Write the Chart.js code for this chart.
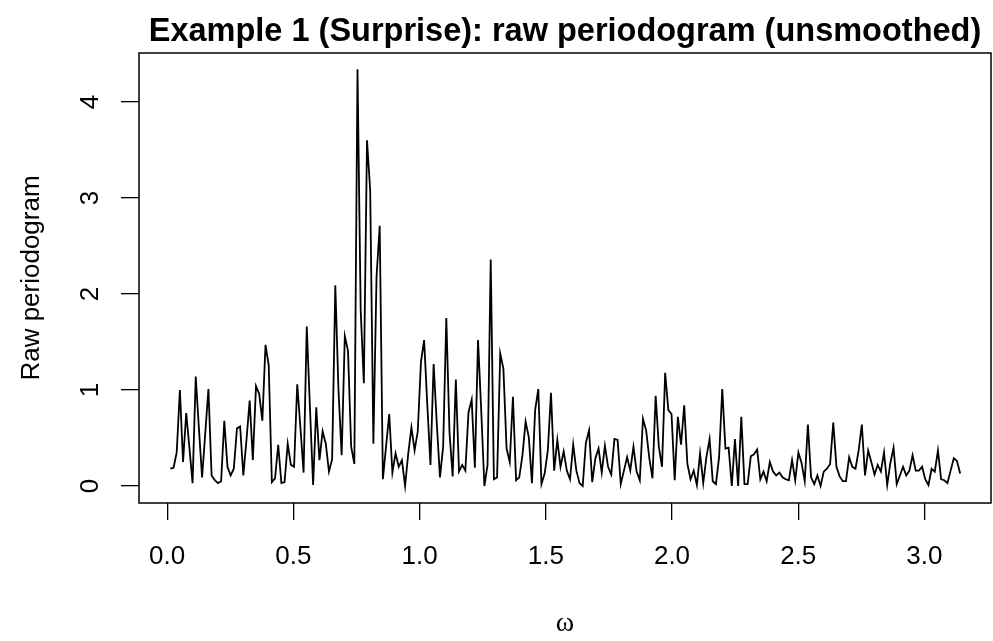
<!DOCTYPE html>
<html>
<head>
<meta charset="utf-8">
<script src="https://cdn.jsdelivr.net/npm/chart.js@4"></script>
<style>
  html, body { margin: 0; padding: 0; background: #fff; }
  #wrap { width: 993px; height: 641px; }
</style>
</head>
<body>
<div id="wrap"><canvas id="pgram" width="993" height="641"></canvas></div>
<script>
// raw periodogram values, one per Fourier frequency 2*pi*k/n, k = 1..250
const nObs = 500;
const pgram = [
  0.18, 0.19, 0.35, 1.00, 0.25, 0.76, 0.40, 0.03, 1.14, 0.60,
  0.09, 0.55, 1.01, 0.11, 0.06, 0.03, 0.05, 0.68, 0.20, 0.11,
  0.18, 0.60, 0.62, 0.11, 0.48, 0.89, 0.27, 1.04, 0.96, 0.68,
  1.47, 1.26, 0.04, 0.08, 0.43, 0.03, 0.04, 0.44, 0.22, 0.20,
  1.06, 0.61, 0.14, 1.66, 0.82, 0.01, 0.82, 0.27, 0.57, 0.44,
  0.15, 0.28, 2.09, 1.00, 0.32, 1.56, 1.41, 0.41, 0.23, 4.34,
  1.83, 1.07, 3.60, 3.08, 0.44, 2.18, 2.71, 0.07, 0.41, 0.75,
  0.14, 0.34, 0.20, 0.27, 0.00, 0.34, 0.61, 0.37, 0.57, 1.29,
  1.52, 0.85, 0.22, 1.27, 0.65, 0.09, 0.41, 1.75, 0.56, 0.10,
  1.11, 0.15, 0.22, 0.16, 0.77, 0.90, 0.19, 1.52, 0.79, 0.00,
  0.22, 2.36, 0.07, 0.09, 1.38, 1.22, 0.39, 0.25, 0.93, 0.06,
  0.09, 0.32, 0.67, 0.51, 0.03, 0.79, 1.01, 0.02, 0.13, 0.37,
  0.97, 0.16, 0.48, 0.20, 0.36, 0.16, 0.07, 0.43, 0.16, 0.03,
  0.00, 0.45, 0.58, 0.04, 0.29, 0.39, 0.14, 0.42, 0.20, 0.12,
  0.49, 0.48, 0.02, 0.16, 0.30, 0.16, 0.41, 0.15, 0.06, 0.70,
  0.58, 0.29, 0.08, 0.94, 0.41, 0.20, 1.18, 0.79, 0.75, 0.06,
  0.72, 0.43, 0.84, 0.23, 0.07, 0.16, 0.01, 0.34, 0.03, 0.30,
  0.49, 0.05, 0.02, 0.30, 1.01, 0.39, 0.40, 0.00, 0.49, 0.00,
  0.72, 0.02, 0.02, 0.31, 0.33, 0.38, 0.07, 0.15, 0.05, 0.25,
  0.15, 0.11, 0.14, 0.09, 0.07, 0.06, 0.27, 0.06, 0.35, 0.24,
  0.05, 0.64, 0.09, 0.02, 0.11, 0.00, 0.15, 0.18, 0.23, 0.66,
  0.20, 0.10, 0.05, 0.05, 0.30, 0.20, 0.18, 0.37, 0.64, 0.11,
  0.37, 0.25, 0.12, 0.22, 0.15, 0.35, 0.01, 0.24, 0.40, 0.02,
  0.11, 0.20, 0.11, 0.16, 0.32, 0.16, 0.16, 0.20, 0.07, 0.01,
  0.18, 0.15, 0.37, 0.07, 0.06, 0.03, 0.16, 0.29, 0.26, 0.13
];
const omega = pgram.map((_, i) => 2 * Math.PI * (i + 1) / nObs);

const xTicks = [0.0, 0.5, 1.0, 1.5, 2.0, 2.5, 3.0];
const yTicks = [0, 1, 2, 3, 4];

const titleText = "Example 1 (Surprise): raw periodogram (unsmoothed)";
const xTitle = "\u03c9";
const yTitle = "Raw periodogram";

const sans = '"Liberation Sans", Arial, Helvetica, sans-serif';

// R-style box, rotated y labels, titles
const rDecor = {
  id: 'rDecor',
  afterDraw(chart) {
    const ctx = chart.ctx;
    const a = chart.chartArea;
    const ys = chart.scales.y;
    ctx.save();
    ctx.strokeStyle = '#000';
    ctx.lineWidth = 1.5;
    ctx.strokeRect(a.left, a.top, a.right - a.left, a.bottom - a.top);

    ctx.fillStyle = '#000';
    ctx.font = '26px ' + sans;
    ctx.textAlign = 'center';
    ctx.textBaseline = 'middle';
    yTicks.forEach(v => {
      ctx.save();
      ctx.translate(91, ys.getPixelForValue(v));
      ctx.rotate(-Math.PI / 2);
      ctx.fillText(String(v), 0, 0);
      ctx.restore();
    });

    ctx.save();
    ctx.translate(32, (a.top + a.bottom) / 2);
    ctx.rotate(-Math.PI / 2);
    ctx.fillText(yTitle, 0, 0);
    ctx.restore();

    ctx.font = '28px "Liberation Serif", "DejaVu Serif", serif';
    ctx.fillText(xTitle, (a.left + a.right) / 2, 624);

    ctx.font = 'bold 32.5px ' + sans;
    ctx.textBaseline = 'alphabetic';
    ctx.fillText(titleText, (a.left + a.right) / 2, 41);
    ctx.restore();
  }
};

new Chart(document.getElementById('pgram'), {
  type: 'line',
  data: {
    datasets: [{
      data: omega.map((w, i) => ({ x: w, y: pgram[i] })),
      borderColor: '#000',
      borderWidth: 1.8,
      pointRadius: 0,
      tension: 0,
      fill: false
    }]
  },
  options: {
    responsive: false,
    animation: false,
    layout: { padding: { top: 53, right: 2, left: 0, bottom: 0 } },
    plugins: { legend: { display: false }, tooltip: { enabled: false }, title: { display: false } },
    scales: {
      x: {
        type: 'linear',
        min: -0.1117,
        max: 3.2638,
        afterBuildTicks: s => { s.ticks = xTicks.map(v => ({ value: v })); },
        afterFit: s => { s.height = 138; },
        border: { display: false },
        grid: { drawOnChartArea: false, drawTicks: true, tickLength: 17, color: '#000', lineWidth: 1.3 },
        ticks: {
          color: '#000',
          font: { size: 26, family: sans },
          padding: 21,
          maxRotation: 0,
          callback: v => Number(v).toFixed(1)
        }
      },
      y: {
        type: 'linear',
        min: -0.177,
        max: 4.51,
        afterBuildTicks: s => { s.ticks = yTicks.map(v => ({ value: v })); },
        afterFit: s => { s.width = 139; },
        border: { display: false },
        grid: { drawOnChartArea: false, drawTicks: true, tickLength: 18, color: '#000', lineWidth: 1.3 },
        ticks: { display: false }
      }
    }
  },
  plugins: [rDecor]
});
</script>
</body>
</html>
